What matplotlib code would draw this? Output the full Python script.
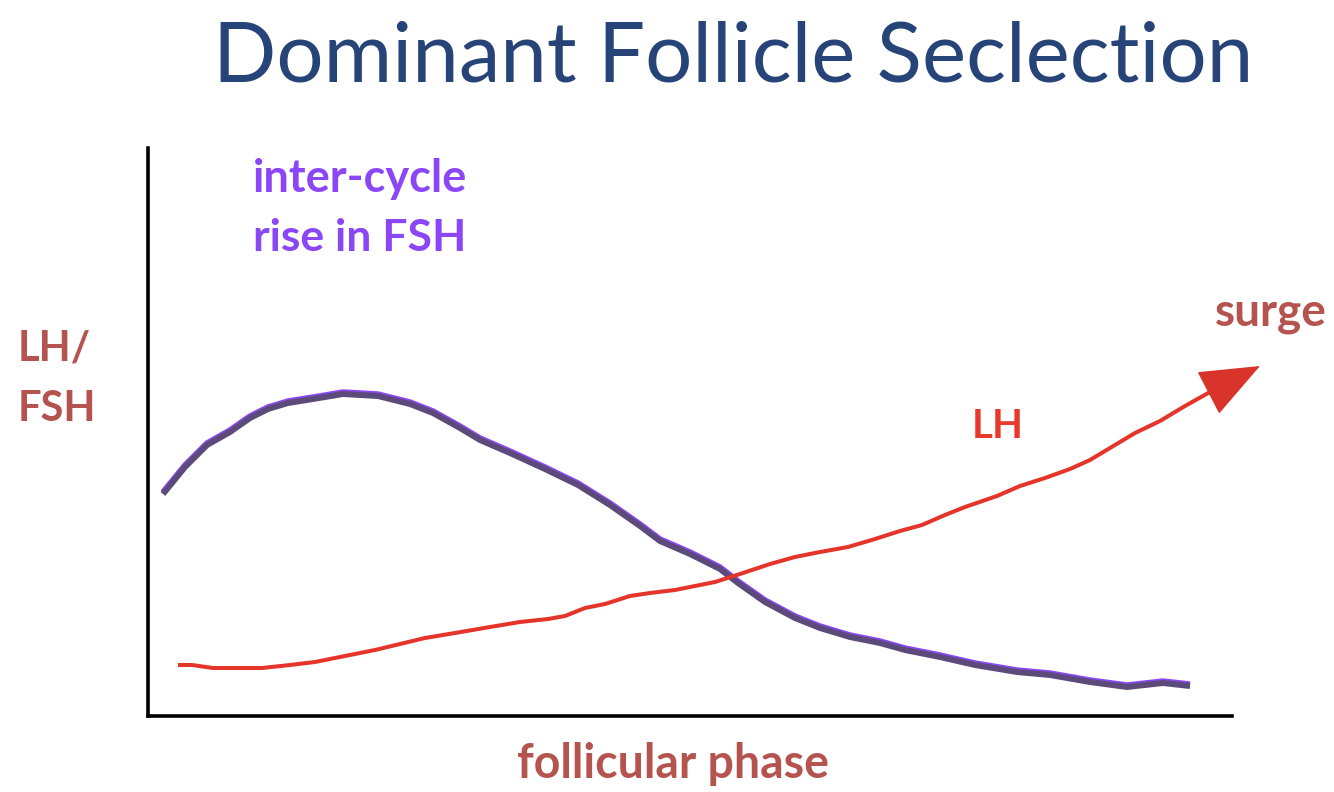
import matplotlib
matplotlib.use("Agg")
import matplotlib.pyplot as plt
import matplotlib.transforms as mtransforms

W, H = 1334, 792
DPI = 100

# curve values (arbitrary units along the follicular phase)
fsh_x = [15, 37, 59, 82, 102, 120, 140, 165, 195, 230, 262, 285, 312, 332, 362,
         397, 430, 462, 492, 512, 542, 572, 590, 617, 647, 672, 702, 732, 757,
         792, 827, 869, 902, 942, 979, 1015, 1042]
fsh_y = [222, 249, 271, 284, 298, 307, 313, 317, 322, 320, 312, 303, 288, 276, 263,
         247, 231, 211, 190, 175, 162, 147, 133, 114, 98, 88, 79, 73, 66,
         59, 51, 44, 41, 34, 29, 33, 30]

lh_x = [30, 44, 65, 114, 142, 167, 197, 227, 252, 277, 307, 342, 372, 400, 417,
        437, 457, 482, 502, 527, 552, 567, 592, 622, 647, 672, 700, 727, 752,
        774, 797, 817, 849, 872, 897, 922, 942, 962, 987, 1012, 1037, 1062]
lh_y = [51, 51, 48, 48, 51, 54, 60, 66, 72, 78, 83, 89, 94, 97, 100,
        108, 112, 120, 123, 126, 131, 134, 142, 152, 159, 164, 169, 177, 185,
        191, 201, 209, 220, 230, 238, 247, 256, 268, 283, 295, 310, 324]
surge_tip = (1112, 350)

TITLE_C = '#264478'
LABEL_C = '#b5534f'
PURPLE = '#8b47f5'
RED = '#e5352a'
FSH_DARK = '#5b4a7a'

plt.rcParams['font.family'] = ['Lato', 'DejaVu Sans']

fig = plt.figure(figsize=(W / DPI, H / DPI), dpi=DPI)
fig.patch.set_facecolor('white')

# axes box placed so that the spines sit where the reference has them
x0, x1, ytop, ybot = 148, 1232, 148, 716
ax = fig.add_axes([x0 / W, 1 - ybot / H, (x1 - x0) / W, (ybot - ytop) / H])
ax.set_xlim(0, x1 - x0)
ax.set_ylim(0, ybot - ytop)
ax.set_xticks([])
ax.set_yticks([])
for s in ['top', 'right']:
    ax.spines[s].set_visible(False)
for s in ['left', 'bottom']:
    ax.spines[s].set_linewidth(2.6)
    ax.spines[s].set_color('black')
ax.patch.set_alpha(0)

# FSH: purple under a darker stroke, shifted a touch
shift = mtransforms.offset_copy(ax.transData, fig=fig, x=0, y=1.2, units='points')
ax.plot(fsh_x, fsh_y, color=PURPLE, lw=4.4, transform=shift, solid_capstyle='butt', zorder=2)
ax.plot(fsh_x, fsh_y, color=FSH_DARK, lw=4.3, solid_capstyle='butt', zorder=3)

# LH with arrow head at the end
ax.plot(lh_x, lh_y, color=RED, lw=2.9, solid_capstyle='butt', zorder=3)
ax.annotate('', xy=surge_tip, xytext=(lh_x[-1], lh_y[-1]), annotation_clip=False,
            arrowprops=dict(arrowstyle='-|>,head_length=4.0,head_width=1.6',
                            mutation_scale=10, color='#d9342b', lw=1,
                            shrinkA=0, shrinkB=0), zorder=4)


def px_text(x, y, s, **kw):
    fig.text(x / W, 1 - y / H, s, ha='left', va='baseline', **kw)


px_text(213, 82, 'Dominant Follicle Seclection', fontsize=60, color=TITLE_C)
px_text(18, 360, 'LH/', fontsize=30, fontweight='bold', color=LABEL_C)
px_text(18, 421, 'FSH', fontsize=30, fontweight='bold', color=LABEL_C)
px_text(253, 192, 'inter-cycle', fontsize=32.5, fontweight='bold', color=PURPLE)
px_text(253, 251, 'rise in FSH', fontsize=32, fontweight='bold', color=PURPLE)
px_text(1215, 325, 'surge', fontsize=33, fontweight='bold', color=LABEL_C)
px_text(972, 438, 'LH', fontsize=29, fontweight='bold', color='#e8392b')
px_text(517, 778, 'follicular phase', fontsize=33.5, fontweight='bold', color=LABEL_C)

fig.savefig('out.png', dpi=DPI)
